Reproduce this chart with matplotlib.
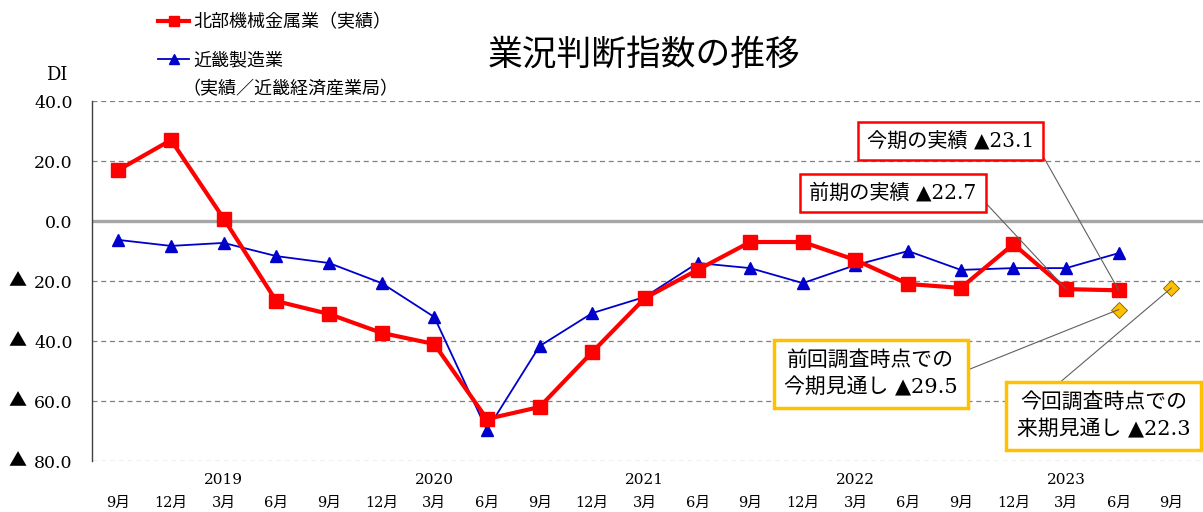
import matplotlib
matplotlib.use("Agg")
import matplotlib.pyplot as plt

# フォント設定（数字は明朝風、漢字はCJK）
plt.rcParams['font.family'] = ['DejaVu Serif', 'Noto Sans CJK JP']
plt.rcParams['axes.unicode_minus'] = False

# データ
months = ['9月', '12月', '3月', '6月', '9月', '12月', '3月', '6月', '9月', '12月',
          '3月', '6月', '9月', '12月', '3月', '6月', '9月', '12月', '3月', '6月', '9月']
years = ['2019', '2020', '2021', '2022', '2023']
year_pos = [2, 6, 10, 14, 18]

hokubu = [17.0, 27.0, 0.8, -26.7, -31.0, -37.3, -41.0, -66.0, -62.0, -43.7,
          -25.7, -16.3, -7.0, -7.0, -13.0, -21.0, -22.3, -7.7, -22.7, -23.1]
kinki = [-6.3, -8.3, -7.3, -11.7, -14.0, -20.7, -32.0, -69.7, -41.7, -30.7,
         -25.3, -14.0, -15.7, -20.7, -14.7, -10.0, -16.3, -15.7, -15.7, -10.7]
mitoshi_x = [19, 20]
mitoshi = [-29.5, -22.3]

yticks = [40, 20, 0, -20, -40, -60, -80]
ytick_labels = ['40.0', '20.0', '0.0', '20.0', '40.0', '60.0', '80.0']


def draw():
    fig = plt.figure(figsize=(12.03, 5.12), dpi=100)
    ax = fig.add_axes([0.0765, 0.0996, 0.9235, 0.7031])

    x = list(range(len(hokubu)))
    # 罫線
    for v in yticks:
        if v == 0:
            ax.axhline(v, color='#a6a6a6', lw=2.4, zorder=1)
        else:
            ax.axhline(v, color='#808080', lw=0.9, ls=(0, (4, 3)), zorder=1)

    l1, = ax.plot(x, hokubu, color='#ff0000', lw=3, marker='s', ms=10,
                  label='北部機械金属業（実績）', zorder=4)
    l2, = ax.plot(x, kinki, color='#0000cc', lw=1.3, marker='^', ms=9,
                  label='近畿製造業', zorder=3)
    ax.plot(mitoshi_x, mitoshi, ls='none', marker='D', ms=8, mfc='#ffc000',
            mec='#7f6000', mew=0.6, zorder=5)

    ax.set_xlim(-0.5, 20.6)
    ax.set_ylim(-80, 40)
    ax.set_yticks(yticks)
    ax.set_yticklabels(ytick_labels, fontsize=12.5)
    ax.set_xticks(range(len(months)))
    ax.set_xticklabels(months, fontsize=10.5)
    ax.tick_params(axis='x', length=0, pad=25)
    ax.tick_params(axis='y', length=0, pad=14)
    for s in ['top', 'right', 'bottom']:
        ax.spines[s].set_visible(False)
    ax.spines['left'].set_color('#404040')
    ax.spines['left'].set_linewidth(1)

    # マイナス記号（▲）
    for v in yticks:
        if v < 0:
            ax.text(-0.0675, v, '▲', transform=ax.get_yaxis_transform(),
                    ha='center', va='center', fontsize=13,
                    family='Noto Sans CJK JP')

    for yr, p in zip(years, year_pos):
        ax.text(p, -0.053, yr, transform=ax.get_xaxis_transform(),
                ha='center', va='center', fontsize=11)

    fig.text(0.535, 0.893, '業況判断指数の推移', ha='center', va='center', fontsize=25)
    fig.text(0.047, 0.853, 'DI', ha='center', va='center', fontsize=13)

    # 凡例
    fig.legend(handles=[l1, l2], loc='upper left', bbox_to_anchor=(0.118, 1.005),
               frameon=False, fontsize=13, handlelength=1.7, handletextpad=0.25,
               labelspacing=1.1, markerscale=0.75)
    fig.text(0.152, 0.826, '（実績／近畿経済産業局）', ha='left', va='center', fontsize=13)

    # 吹き出し
    red_box = dict(boxstyle='square,pad=0.45', fc='white', ec='#ff0000', lw=1.8)
    yel_box = dict(boxstyle='square,pad=0.5', fc='white', ec='#ffc000', lw=2.5)
    line = dict(arrowstyle='-', color='#606060', lw=0.8, shrinkA=0, shrinkB=0)

    ax.annotate('今期の実績 ▲23.1', xy=(19, hokubu[19]), xytext=(15.81, 26.7),
                ha='center', va='center', fontsize=14.5, bbox=red_box,
                arrowprops=dict(line, relpos=(1, 0.5)), zorder=6)
    ax.annotate('前期の実績 ▲22.7', xy=(18, hokubu[18]), xytext=(14.71, 9.3),
                ha='center', va='center', fontsize=14.5, bbox=red_box,
                arrowprops=dict(line, relpos=(1, 0.5)), zorder=6)
    ax.annotate('前回調査時点での\n今期見通し ▲29.5', xy=(19, mitoshi[0]),
                xytext=(14.29, -51), ha='center', va='center', fontsize=15,
                multialignment='center', linespacing=1.45, bbox=yel_box,
                arrowprops=dict(line, relpos=(1, 0.5)), zorder=6)
    ax.annotate('今回調査時点での\n来期見通し ▲22.3', xy=(20, mitoshi[1]),
                xytext=(18.71, -65), ha='center', va='center', fontsize=15,
                multialignment='center', linespacing=1.45, bbox=yel_box,
                arrowprops=dict(line, relpos=(0.18, 1)), zorder=6)

    fig.savefig('out.png', dpi=100)


if __name__ == '__main__':
    draw()
